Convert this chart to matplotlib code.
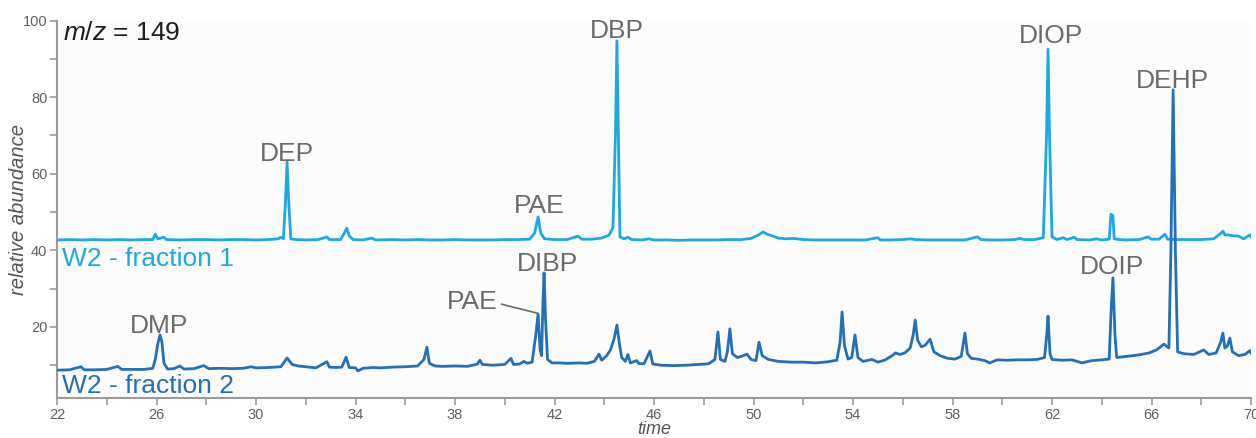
import matplotlib
matplotlib.use("Agg")
import matplotlib.pyplot as plt
from matplotlib.ticker import MultipleLocator

plt.rcParams['font.family'] = ['Liberation Sans', 'DejaVu Sans']
plt.rcParams['mathtext.fontset'] = 'custom'
plt.rcParams['mathtext.it'] = 'Liberation Sans:italic'
plt.rcParams['mathtext.rm'] = 'Liberation Sans'

# ---- data: fraction 1 (retention time, relative abundance) ----
f1_time = [22.0, 22.5, 23.0, 23.5, 24.0, 24.5, 25.0, 25.5, 25.85, 25.95, 26.05, 26.3, 26.4,
           27.0, 27.5, 28.0, 28.5, 29.0, 29.5, 30.0, 30.5, 30.9, 31.0, 31.1, 31.18, 31.25,
           31.32, 31.4, 31.6, 32.0, 32.5, 32.85, 32.95, 33.4, 33.55, 33.65, 33.75, 33.9,
           34.3, 34.66, 34.8, 35.5, 36.0, 36.5, 37.0, 37.5, 38.0, 38.5, 39.0, 39.5, 40.0,
           40.5, 41.0, 41.2, 41.34, 41.45, 41.6, 42.0, 42.5, 42.85, 42.95, 43.1, 43.5, 43.9,
           44.2, 44.35, 44.45, 44.51, 44.57, 44.63, 44.8, 44.95, 45.1, 45.5, 45.8, 46.0,
           46.5, 47.0, 47.5, 48.0, 48.5, 49.0, 49.5, 49.9, 50.2, 50.38, 50.55, 50.7, 51.0,
           51.3, 51.6, 52.0, 52.5, 53.0, 53.5, 54.0, 54.5, 55.0, 55.1, 55.5, 56.0, 56.3,
           56.5, 57.0, 57.5, 58.0, 58.5, 59.0, 59.15, 59.5, 60.0, 60.5, 60.7, 60.9, 61.3,
           61.65, 61.78, 61.84, 61.9, 62.0, 62.2, 62.45, 62.6, 62.9, 63.0, 63.5, 63.8,
           64.0, 64.3, 64.37, 64.45, 64.5, 64.7, 65.0, 65.5, 65.86, 66.0, 66.3, 66.54,
           66.65, 67.0, 67.5, 68.0, 68.5, 68.8, 68.87, 68.95, 69.1, 69.3, 69.5, 69.7,
           69.85, 69.96, 70.0]
f1_abund = [42.7, 42.8, 42.7, 42.8, 42.7, 42.8, 42.7, 42.8, 42.8, 44.2, 43.0, 43.4, 42.8,
            42.7, 42.8, 42.8, 42.7, 42.8, 42.8, 42.7, 42.8, 43.0, 43.4, 43.0, 52.0, 63.0,
            52.0, 43.0, 42.8, 42.7, 42.8, 43.5, 42.8, 42.8, 44.5, 45.8, 43.8, 42.8,
            42.7, 43.2, 42.7, 42.8, 42.7, 42.8, 42.7, 42.7, 42.8, 42.7, 42.7, 42.7, 42.8,
            42.8, 42.9, 44.5, 48.7, 44.5, 43.0, 42.8, 42.8, 43.5, 43.7, 42.9, 42.9, 43.2,
            44.0, 46.0, 70.0, 94.7, 70.0, 43.5, 43.0, 43.4, 42.8, 42.7, 43.0, 42.7,
            42.7, 42.6, 42.7, 42.7, 42.7, 42.8, 42.8, 43.1, 44.0, 44.8, 44.2, 43.9, 43.2,
            43.0, 43.1, 42.8, 42.7, 42.7, 42.7, 42.7, 42.7, 43.3, 42.7, 42.7, 42.8, 43.0,
            42.8, 42.7, 42.7, 42.7, 42.7, 43.5, 42.8, 42.7, 42.7, 42.8, 43.1, 42.8, 42.8,
            43.3, 70.0, 92.5, 70.0, 43.5, 42.8, 43.3, 42.8, 43.4, 42.8, 42.7, 43.0,
            42.7, 42.9, 49.4, 49.0, 43.0, 42.8, 42.7, 42.8, 43.5, 42.9, 42.9, 44.2,
            42.9, 42.8, 42.8, 42.8, 43.0, 44.5, 45.0, 44.0, 44.0, 43.8, 43.7, 43.0,
            43.6, 44.0, 43.5]

# ---- data: fraction 2 ----
f2_time = [22.0, 22.5, 22.96, 23.1, 23.5, 24.0, 24.45, 24.6, 25.0, 25.5, 25.85, 25.95, 26.05,
           26.14, 26.22, 26.3, 26.45, 26.7, 26.94, 27.1, 27.5, 27.9, 28.1, 28.5, 29.0, 29.5,
           29.8, 30.0, 30.5, 31.0, 31.25, 31.45, 31.7, 32.0, 32.4, 32.85, 32.95, 33.2, 33.45,
           33.62, 33.75, 34.0, 34.1, 34.3, 34.7, 35.0, 35.5, 36.0, 36.5, 36.75, 36.87, 36.97,
           37.2, 37.5, 38.0, 38.5, 38.9, 39.0, 39.1, 39.5, 40.0, 40.25, 40.35, 40.6, 40.77,
           40.9, 41.1, 41.25, 41.34, 41.42, 41.48, 41.53, 41.58, 41.64, 41.72, 41.9, 42.2,
           42.5, 43.0, 43.3, 43.6, 43.79, 43.9, 44.1, 44.25, 44.4, 44.51, 44.6, 44.7, 44.85,
           44.95, 45.05, 45.3, 45.4, 45.6, 45.84, 45.95, 46.3, 46.8, 47.3, 47.8, 48.2, 48.45,
           48.57, 48.67, 48.85, 48.95, 49.05, 49.15, 49.35, 49.55, 49.74, 49.9, 50.1, 50.22,
           50.35, 50.6, 51.0, 51.5, 52.0, 52.5, 53.0, 53.35, 53.48, 53.56, 53.66, 53.8, 53.95,
           54.08, 54.2, 54.4, 54.76, 55.0, 55.3, 55.6, 55.7, 55.9, 56.1, 56.3, 56.42, 56.5,
           56.6, 56.75, 56.9, 57.1, 57.25, 57.5, 57.8, 58.1, 58.35, 58.5, 58.6, 58.75, 59.0,
           59.3, 59.5, 59.8, 60.2, 60.6, 61.0, 61.4, 61.7, 61.79, 61.84, 61.92, 62.0, 62.4,
           62.8, 63.2, 63.6, 64.0, 64.3, 64.38, 64.45, 64.53, 64.6, 65.0, 65.5, 65.9, 66.2,
           66.5, 66.7, 66.78, 66.87, 66.96, 67.05, 67.3, 67.7, 68.1, 68.3, 68.6, 68.78, 68.87,
           68.95, 69.05, 69.15, 69.25, 69.5, 69.75, 69.96, 70.0]
f2_abund = [8.7, 8.8, 9.6, 8.8, 8.8, 8.9, 9.7, 8.9, 8.9, 8.9, 9.2, 11.5, 15.5,
            17.9, 16.0, 10.5, 9.0, 9.1, 9.8, 9.0, 9.1, 9.9, 9.1, 9.2, 9.1, 9.2,
            9.6, 9.3, 9.4, 9.6, 11.9, 10.2, 9.8, 9.6, 9.3, 10.9, 9.5, 9.4, 9.5,
            12.1, 9.4, 9.3, 8.5, 9.2, 9.4, 9.3, 9.5, 9.6, 9.8, 11.5, 14.7, 10.5,
            9.8, 9.7, 9.8, 9.7, 10.3, 11.3, 10.2, 10.0, 10.2, 11.8, 10.2, 10.3, 11.0,
            10.5, 10.8, 18.0, 23.4, 14.0, 12.5, 25.0, 34.1, 22.0, 11.5, 10.6, 10.6,
            10.5, 10.6, 10.5, 11.0, 12.9, 11.3, 12.5, 14.0, 17.0, 20.5, 16.0, 12.0, 11.0,
            12.8, 10.6, 11.2, 10.4, 10.4, 13.7, 10.3, 10.0, 9.9, 10.0, 10.2, 10.4, 11.5,
            18.7, 11.5, 11.0, 13.5, 19.5, 13.0, 12.0, 12.4, 12.9, 11.5, 11.2, 16.0,
            12.5, 11.5, 11.0, 10.8, 10.8, 10.6, 10.9, 11.3, 16.0, 23.9, 15.0, 11.6, 12.0,
            17.9, 12.0, 11.0, 11.5, 10.8, 11.4, 12.6, 13.2, 12.8, 13.3, 14.5, 18.0, 21.8,
            16.5, 14.8, 15.2, 16.8, 13.5, 12.5, 11.8, 11.6, 12.3, 18.4, 13.0, 11.8, 11.6,
            11.2, 10.6, 11.4, 11.3, 11.4, 11.4, 11.5, 12.0, 18.0, 22.8, 13.0, 11.5, 11.3,
            11.4, 10.6, 11.2, 11.4, 11.6, 25.0, 32.8, 18.0, 12.0, 12.3, 12.7, 13.2, 14.0,
            15.5, 14.5, 40.0, 81.9, 40.0, 13.5, 13.0, 12.8, 14.0, 12.8, 13.2, 16.0, 18.4,
            14.5, 15.0, 17.1, 13.5, 12.5, 12.8, 13.8, 13.2]

x_ticks = [22, 26, 30, 34, 38, 42, 46, 50, 54, 58, 62, 66, 70]
y_ticks = [20, 40, 60, 80, 100]

# peak labels: (text, x, baseline y)
f1_labels = [("DEP", 31.25, 63.3), ("PAE", 41.37, 49.7), ("DBP", 44.5, 95.4),
             ("DIOP", 61.96, 94.1), ("DEHP", 66.84, 82.4)]
f2_labels = [("DMP", 26.1, 18.4), ("DIBP", 41.7, 34.6), ("DOIP", 64.4, 33.8)]

c1 = "#1aa9e2"
c2 = "#2270b7"
grey = "#6b6b6b"

fig = plt.figure(figsize=(12.56, 4.38), dpi=100, facecolor="white")
ax = fig.add_axes([57/1256, 40/438, (1251-57)/1256, (398-20.5)/438])
ax.set_facecolor("#fcfcfc")

ax.plot(f1_time, f1_abund, color=c1, lw=2.0, solid_joinstyle="round", zorder=2)
ax.plot(f2_time, f2_abund, color=c2, lw=2.0, solid_joinstyle="round", zorder=3)

ax.set_xlim(22, 70)
ax.set_ylim(1.44, 100)
ax.set_xticks(x_ticks)
ax.xaxis.set_minor_locator(MultipleLocator(2))
ax.set_yticks(y_ticks)
ax.yaxis.set_minor_locator(MultipleLocator(10))

for s in ["top", "right"]:
    ax.spines[s].set_visible(False)
for s in ["left", "bottom"]:
    ax.spines[s].set_color("#9a9a9a")
    ax.spines[s].set_linewidth(1.5)

ax.tick_params(which="both", direction="out", color="#9a9a9a", width=1.2,
               labelcolor="#606060", labelsize=10.5)
ax.tick_params(which="major", length=5)
ax.tick_params(which="minor", length=5)
ax.tick_params(axis="y", pad=2)
ax.tick_params(axis="x", pad=2)

ax.set_xlabel("time", fontstyle="italic", fontsize=13, color="#555555", va="baseline")
ax.xaxis.set_label_coords(0.5, -0.0954)
ax.set_ylabel("relative abundance", fontstyle="italic", fontsize=14.5, color="#555555",
              va="center")
ax.yaxis.set_label_coords(-0.032, 0.5)

fs = 19
for txt, x, y in f1_labels + f2_labels:
    ax.text(x, y, txt, ha="center", va="baseline", fontsize=fs, color=grey)

ax.annotate("PAE", xy=(41.3, 23.6), xytext=(39.7, 24.7), ha="right", va="baseline",
            fontsize=fs, color=grey,
            arrowprops=dict(arrowstyle="-", color=grey, lw=1.2, shrinkA=1, shrinkB=0,
                            relpos=(1.0, 0.45)))

ax.text(22.25, 94.9, r"$\it{m/z}$ = 149", ha="left", va="baseline", fontsize=fs,
        color="#1e1e1e")
ax.text(22.2, 35.9, "W2 - fraction 1", ha="left", va="baseline", fontsize=fs, color=c1)
ax.text(22.2, 2.7, "W2 - fraction 2", ha="left", va="baseline", fontsize=fs, color=c2)

fig.savefig("out.png", dpi=100, facecolor="white")
